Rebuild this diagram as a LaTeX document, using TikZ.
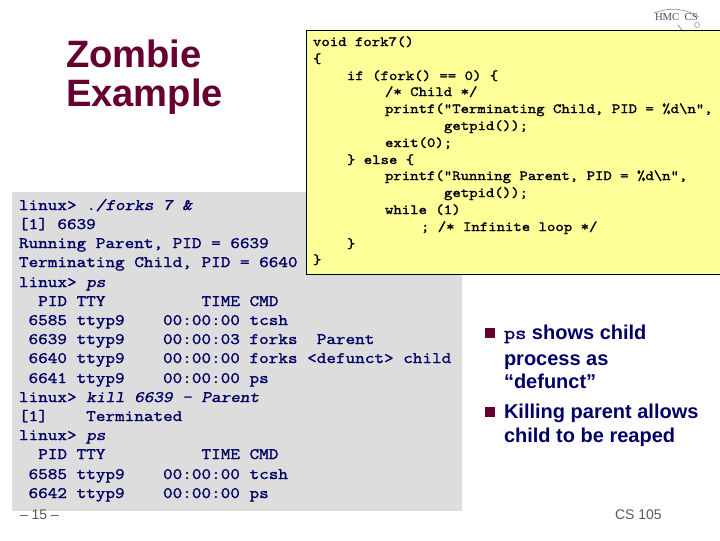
\documentclass[tikz,border=0pt]{standalone}
\usepackage{fontspec}
\setmainfont{Liberation Sans}
\newfontfamily\monof[FakeStretch=1.143,FakeBold=1.5]{Latin Modern Mono}
\newfontfamily\termf[FakeStretch=1.166,FakeBold=1.5]{Latin Modern Mono}
\newfontfamily\termslant[FakeStretch=1.166,FakeBold=1.5,FakeSlant=0.2]{Latin Modern Mono}
\newfontfamily\logof{Liberation Serif}
\definecolor{maroon}{HTML}{660033}
\definecolor{navy}{HTML}{000066}
\definecolor{paleyellow}{HTML}{FFFF99}
\definecolor{panelgray}{HTML}{DDDDDD}
\tikzset{
  every node/.style={inner sep=0pt,outer sep=0pt,anchor=base west},
  termline/.style={text=navy,font=\termf\fontsize{12}{12}\selectfont},
  codeline/.style={text=black!85!navy,font=\monof\fontsize{10.5}{10.5}\selectfont},
  titleline/.style={text=maroon,font=\bfseries\fontsize{28.6}{28.6}\selectfont},
  bulletline/.style={text=navy,font=\bfseries\fontsize{15}{15}\selectfont},
  bulletmark/.style={fill=maroon,draw=none},
  footer/.style={text=black!65,font=\fontsize{10.5}{10.5}\selectfont},
  logoline/.style={text=black!70,font=\logof\fontsize{8}{8}\selectfont}
}
\newcommand{\ttit}[1]{{\termslant #1}}
\begin{document}
\begin{tikzpicture}[x=0.75pt,y=-0.75pt]
\useasboundingbox (0,0) rectangle (720,540);
\fill[white] (0,0) rectangle (720,540);
% logo
\node[logoline] (logo) at (655,20) {HMC\,\,\,CS};
\draw[black!50,line width=0.4pt] (654,13) .. controls (670,7) and (685,8) .. (699,17);
\draw[black!50,line width=0.5pt] (678,25) -- (682,30);
\draw[black!40,line width=0.5pt] (697,25) circle (2.5);
% title
\node[titleline] (title1) at (66,67) {Zombie};
\node[titleline] (title2) at (66,106) {Example};
% terminal panel
\fill[panelgray] (12,192) rectangle (462,511);
\node[termline] (t0) at (19,210) {linux>~\ttit{./forks 7 \&}};
\node[termline] (t1) at (19,229) {[1] 6639};
\node[termline] (t2) at (19,248) {Running Parent, PID = 6639};
\node[termline] (t3) at (19,267) {Terminating Child, PID = 6640};
\node[termline] (t4) at (19,287) {linux>~\ttit{ps}};
\node[termline] (t5) at (19,306) {~~PID TTY~~~~~~~~~~TIME CMD};
\node[termline] (t6) at (19,325) {~6585 ttyp9~~~~00:00:00 tcsh};
\node[termline] (t7) at (19,344) {~6639 ttyp9~~~~00:00:03 forks~~Parent};
\node[termline] (t8) at (19,363) {~6640 ttyp9~~~~00:00:00 forks <defunct> child};
\node[termline] (t9) at (19,383) {~6641 ttyp9~~~~00:00:00 ps};
\node[termline] (t10) at (19,402) {linux>~\ttit{kill 6639 - Parent}};
\node[termline] (t11) at (19,421) {[1]~~~~Terminated};
\node[termline] (t12) at (19,440) {linux>~\ttit{ps}};
\node[termline] (t13) at (19,459) {~~PID TTY~~~~~~~~~~TIME CMD};
\node[termline] (t14) at (19,479) {~6585 ttyp9~~~~00:00:00 tcsh};
\node[termline] (t15) at (19,498) {~6642 ttyp9~~~~00:00:00 ps};
% code box
\filldraw[fill=paleyellow,draw=black!80!navy,line width=0.75pt] (306,30) rectangle (721,274);
\node[codeline] (c0) at (313,46) {void fork7()};
\node[codeline] (c1) at (313,63) {\{};
\node[codeline] (c2) at (347,80) {if (fork() == 0) \{};
\node[codeline] (c3) at (385,96) {/* Child */};
\node[codeline] (c4) at (385,113) {printf("Terminating Child, PID = \%d\textbackslash n",};
\node[codeline] (c5) at (444,130) {getpid());};
\node[codeline] (c6) at (385,147) {exit(0);};
\node[codeline] (c7) at (347,164) {\} else \{};
\node[codeline] (c8) at (385,180) {printf("Running Parent, PID = \%d\textbackslash n",};
\node[codeline] (c9) at (444,197) {getpid());};
\node[codeline] (c10) at (385,214) {while (1)};
\node[codeline] (c11) at (421,231) {; /* Infinite loop */};
\node[codeline] (c12) at (347,248) {\}};
\node[codeline] (c13) at (313,264) {\}};
% bullets
\fill[bulletmark] (485,328) rectangle (495,338);
\node[bulletline] (b1) at (504,339) {{\termf\mdseries\fontsize{14}{14}\selectfont ps} shows child};
\node[bulletline] (b2) at (504,365) {process as};
\node[bulletline] (b3) at (504,388) {“defunct”};
\fill[bulletmark] (485,407) rectangle (495,417);
\node[bulletline] (b4) at (504,418) {Killing parent allows};
\node[bulletline] (b5) at (504,442) {child to be reaped};
% footers
\node[footer] (f1) at (20,519) {– 15 –};
\node[footer] (f2) at (615,519) {CS 105};
\end{tikzpicture}
\end{document}
